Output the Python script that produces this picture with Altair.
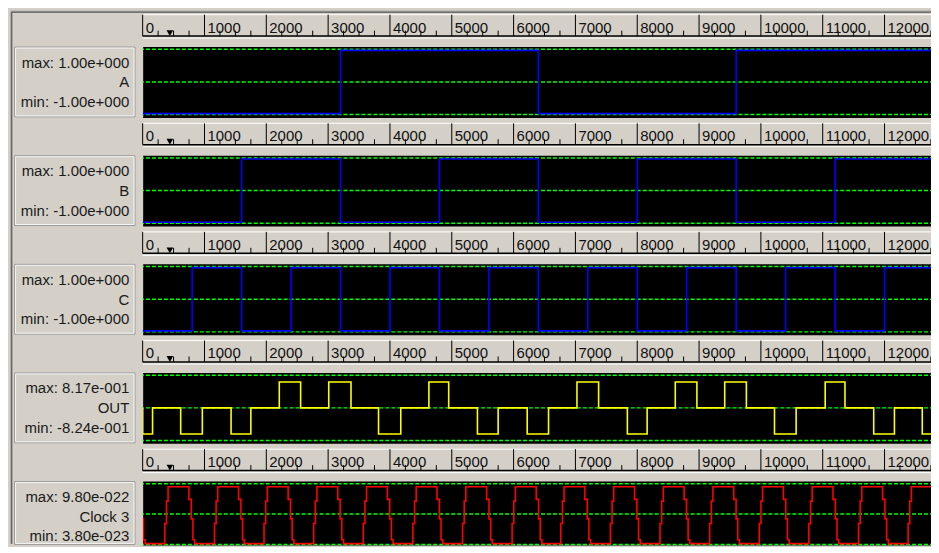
import altair as alt
import pandas as pd

# ---------------- data ----------------
T_END = 12800

ruler_major = [0, 1000, 2000, 3000, 4000, 5000, 6000, 7000, 8000, 9000, 10000, 11000, 12000]
ruler_labels = ["0", "1000", "2000", "3000", "4000", "5000", "6000", "7000",
                "8000", "9000", "10000", "11000", "12000"]
ruler_minor = [250, 500, 750, 1250, 1500, 1750, 2250, 2500, 2750, 3250, 3500, 3750,
               4250, 4500, 4750, 5250, 5500, 5750, 6250, 6500, 6750, 7250, 7500, 7750,
               8250, 8500, 8750, 9250, 9500, 9750, 10250, 10500, 10750, 11250, 11500,
               11750, 12250, 12500, 12750]
cursor_t = [440]

signal_names = ["A", "B", "C", "OUT", "Clock 3"]
max_labels = ["max: 1.00e+000", "max: 1.00e+000", "max: 1.00e+000", "max: 8.17e-001", "max: 9.80e-022"]
min_labels = ["min: -1.00e+000", "min: -1.00e+000", "min: -1.00e+000", "min: -8.24e-001", "min: 3.80e-023"]
trace_colors = ["#0000ff", "#0000ff", "#0000ff", "#ffff00", "#ff0000"]

a_t = [0, 3200, 6400, 9600]
a_v = [-1, 1, -1, 1]

b_t = [0, 1600, 3200, 4800, 6400, 8000, 9600, 11200]
b_v = [-1, 1, -1, 1, -1, 1, -1, 1]

c_t = [0, 800, 1600, 2400, 3200, 4000, 4800, 5600, 6400, 7200, 8000, 8800, 9600,
       10400, 11200, 12000]
c_v = [-1, 1, -1, 1, -1, 1, -1, 1, -1, 1, -1, 1, -1, 1, -1, 1]

out_t = [0, 0, 160, 615, 965, 1430, 1750, 2210, 2555, 3010, 3370, 3815, 4175, 4630,
         4950, 5415, 5750, 6220, 6565, 7025, 7375, 7840, 8160, 8615, 8965, 9415, 9765,
         10220, 10570, 11040, 11360, 11825, 12160, 12610]
out_v = [0, -0.824, 0, -0.824, 0, -0.824, 0, 0.817, 0, 0.817, 0, -0.824, 0, 0.817,
         0, -0.824, 0, -0.824, 0, 0.817, 0, -0.824, 0, 0.817, 0, 0.817, 0,
         -0.824, 0, 0.817, 0, -0.824, 0, -0.824]

clk_head_t = [0, 13, 40]
clk_head_v = [-0.16, -0.87, -1.0]
clk_rise = [358, 1161, 1963, 2766, 3568, 4371, 5174, 5976, 6763, 7566, 8368, 9171,
            9974, 10776, 11579, 12381]
clk_step_dt = [0, 27, 53, 390, 428, 455, 482]
clk_step_v = [-0.32, 0.44, 0.93, 0.50, -0.16, -0.87, -1.0]

# ---------------- layout / style ----------------
W = 793.3
H = 71
H_LAST = 64
GAP = 37.9
Y_D = 1.12
Y_LOW_LAST = -1.045
GRID = 1.032
BG = "#d4d0c8"
FONT = "Liberation Sans"


def trace_df(ts, vs):
    ts = list(ts) + [T_END]
    vs = list(vs) + [vs[-1]]
    return pd.DataFrame({"t": ts, "v": vs, "i": list(range(len(ts)))})


clk_t = list(clk_head_t)
clk_v = list(clk_head_v)
for r in clk_rise:
    for dt, v in zip(clk_step_dt, clk_step_v):
        clk_t.append(r + dt)
        clk_v.append(v)

series = [(a_t, a_v), (b_t, b_v), (c_t, c_v), (out_t, out_v), (clk_t, clk_v)]

xs = alt.Scale(domain=[0, T_END], nice=False, zero=False)

major_df = pd.DataFrame({"t": ruler_major, "lab": ruler_labels})
minor_df = pd.DataFrame({"t": ruler_minor})
cursor_df = pd.DataFrame({"t": cursor_t})
one = pd.DataFrame({"k": [0]})
grid_df = pd.DataFrame({"g": [GRID, 0, -GRID]})


def panel(idx):
    last = idx == 4
    h = H_LAST if last else H
    ys = alt.Scale(domain=[Y_LOW_LAST if last else -Y_D, Y_D], nice=False, zero=False)
    ts, vs = series[idx]
    X = alt.X("t:Q", scale=xs, axis=None)
    layers = []
    # ruler
    layers.append(alt.Chart(one).mark_rule(color="white", strokeWidth=1).encode(
        x=alt.value(0), x2=alt.value(W), y=alt.value(-32)))
    layers.append(alt.Chart(major_df).mark_rule(color="black", strokeWidth=1).encode(
        x=X, y=alt.value(-32), y2=alt.value(-10.5)))
    layers.append(alt.Chart(minor_df).mark_rule(color="black", strokeWidth=1).encode(
        x=X, y=alt.value(-16), y2=alt.value(-10.5)))
    layers.append(alt.Chart(major_df).mark_text(
        align="left", baseline="alphabetic", dx=3, fontSize=15, font=FONT, color="#111111"
    ).encode(x=X, y=alt.value(-14), text="lab:N"))
    layers.append(alt.Chart(cursor_df).mark_point(
        shape="triangle-down", filled=True, color="black", size=45, opacity=1
    ).encode(x=X, y=alt.value(-13.5)))
    layers.append(alt.Chart(one).mark_rule(color="black", strokeWidth=1.5).encode(
        x=alt.value(0), x2=alt.value(W), y=alt.value(-10.5)))
    layers.append(alt.Chart(one).mark_rule(color="white", strokeWidth=1).encode(
        x=alt.value(0), x2=alt.value(W), y=alt.value(-8.5)))
    # grid
    layers.append(alt.Chart(grid_df).mark_rule(
        color="#00ff00", strokeDash=[4, 2], strokeWidth=1.5
    ).encode(y=alt.Y("g:Q", scale=ys, axis=None)))
    # trace
    layers.append(alt.Chart(trace_df(ts, vs)).mark_line(
        interpolate="step-after", color=trace_colors[idx], strokeWidth=1.6, clip=True
    ).encode(x=X, y=alt.Y("v:Q", scale=ys, axis=None), order="i:Q"))
    # label box
    layers.append(alt.Chart(one).mark_rect(fillOpacity=0, stroke="#9a9a9a", strokeWidth=1).encode(
        x=alt.value(-128.4), x2=alt.value(-7.7), y=alt.value(0.5), y2=alt.value(h - 0.5)))
    layers.append(alt.Chart(one).mark_rect(fillOpacity=0, stroke="#f4f4f4", strokeWidth=1).encode(
        x=alt.value(-127.4), x2=alt.value(-8.7), y=alt.value(1.5), y2=alt.value(h - 1.5)))
    text_y = [16, 36, 55.5]
    for txt, yy in zip([max_labels[idx], signal_names[idx], min_labels[idx]], text_y):
        layers.append(alt.Chart(one).mark_text(
            align="right", baseline="middle", fontSize=15, font=FONT, color="#1a1a1a"
        ).encode(x=alt.value(-13.4), y=alt.value(yy), text=alt.value(txt)))
    if idx == 0:
        total = 4 * (H + GAP) + H_LAST
        layers.append(alt.Chart(one).mark_rule(color="#a0a0a0", strokeWidth=1).encode(
            x=alt.value(-132.2), x2=alt.value(W), y=alt.value(-35.5)))
        layers.append(alt.Chart(one).mark_rule(color="#404040", strokeWidth=1).encode(
            x=alt.value(-131.2), x2=alt.value(W), y=alt.value(-34.5)))
        layers.append(alt.Chart(one).mark_rule(color="#a0a0a0", strokeWidth=1).encode(
            x=alt.value(-132.2), y=alt.value(-35.5), y2=alt.value(total - 1)))
        layers.append(alt.Chart(one).mark_rule(color="#404040", strokeWidth=1).encode(
            x=alt.value(-131.2), y=alt.value(-34.5), y2=alt.value(total - 1)))
    return alt.layer(*layers).properties(width=W, height=h)


chart = alt.vconcat(*[panel(i) for i in range(5)], spacing=GAP, bounds="flush").properties(
    padding={"left": 1, "top": 1, "right": -5, "bottom": 0}
).configure(background=BG).configure_view(fill="black", stroke="transparent")

chart.save("out.html", embed_options={"renderer": "svg", "actions": False})
